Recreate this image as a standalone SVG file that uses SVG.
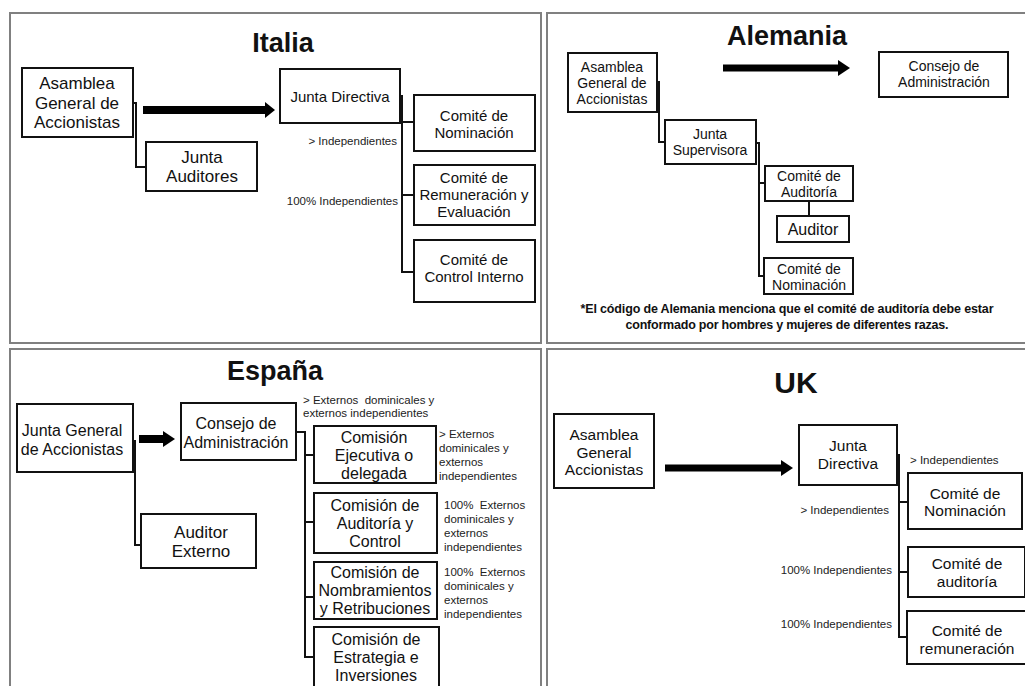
<svg xmlns="http://www.w3.org/2000/svg" width="1025" height="686" viewBox="0 0 1025 686">
<style>
.panel{fill:#fff;stroke:#808080;stroke-width:2}
.box{fill:#fff;stroke:#111;stroke-width:2}
.t{font-family:"Liberation Sans",Arial,sans-serif;fill:#111;text-anchor:middle}
.s17{font-size:17px}
.s16{font-size:16px}
.s155{font-size:15.5px}
.s15{font-size:15px}
.s14{font-size:14px}
.title{font-family:"Liberation Sans",Arial,sans-serif;font-weight:bold;font-size:27px;fill:#111;text-anchor:middle}
.lab{font-family:"Liberation Sans",Arial,sans-serif;font-size:11.5px;fill:#222}
.r{text-anchor:end}
.note{font-family:"Liberation Sans",Arial,sans-serif;font-weight:bold;font-size:12.5px;fill:#111;text-anchor:middle}
.ln{fill:none;stroke:#111;stroke-width:2}
.arr{fill:#000}
</style>
<rect width="1025" height="686" fill="#fff"/>
<g id="panels">
<rect class="panel" x="10" y="13" width="531" height="330"/>
<rect class="panel" x="547" y="13" width="490" height="330"/>
<rect class="panel" x="10" y="349" width="531" height="350"/>
<rect class="panel" x="547" y="349" width="490" height="350"/>
</g>
<g id="titles">
<text class="title" x="283" y="52">Italia</text>
<text class="title" x="787" y="45">Alemania</text>
<text class="title" x="275" y="380">España</text>
<text class="title" x="796" y="393" style="font-size:30px">UK</text>
</g>
<g id="connectors">
<path class="ln" d="M133 103H136V167H146"/>
<path class="ln" d="M400 96H402V272H414M402 122H414M402 195H414"/>
<polygon class="arr" points="143,106 265,106 265,102 275,110 265,118 265,114 143,114"/>
<path class="ln" d="M657 82H659V142H665"/>
<path class="ln" d="M756 143H759V276H764M759 183H765"/>
<path class="ln" d="M809 201V216"/>
<polygon class="arr" points="723,64.5 838,64.5 838,60 850,68 838,76 838,71.5 723,71.5"/>
<path class="ln" d="M133 441H135V545H141"/>
<path class="ln" d="M296 432H305V657H314M305 455H314M305 522H314M305 597H314"/>
<polygon class="arr" points="139,435 163,435 163,431 175,439 163,447 163,443 139,443"/>
<path class="ln" d="M897 455H899V637H908M899 502H908M899 572H908"/>
<polygon class="arr" points="665,464.5 781,464.5 781,460 793,468 781,476 781,471.5 665,471.5"/>
</g>
<g id="italia-asamblea"><rect class="box" x="22" y="68" width="111" height="69"/>
<text class="t s17" x="77" y="89">Asamblea</text><text class="t s17" x="77" y="108.5">General de</text><text class="t s17" x="77" y="128">Accionistas</text></g>
<g id="italia-auditores"><rect class="box" x="146" y="142" width="111" height="49"/>
<text class="t s17" x="202" y="163">Junta</text><text class="t s17" x="202" y="182">Auditores</text></g>
<g id="italia-junta"><rect class="box" x="280" y="69" width="120" height="54"/>
<text class="t s15" x="340" y="102">Junta Directiva</text></g>
<g id="italia-nominacion"><rect class="box" x="414" y="95" width="121" height="56"/>
<text class="t s15" x="474" y="121">Comité de</text><text class="t s15" x="474" y="138">Nominación</text></g>
<g id="italia-remuneracion"><rect class="box" x="414" y="165" width="121" height="60"/>
<text class="t s15" x="474" y="183">Comité de</text><text class="t s15" x="474" y="200">Remuneración y</text><text class="t s15" x="474" y="217">Evaluación</text></g>
<g id="italia-control"><rect class="box" x="414" y="240" width="121" height="62"/>
<text class="t s15" x="474" y="265">Comité de</text><text class="t s15" x="474" y="282">Control Interno</text></g>
<g id="italia-labels">
<text class="lab r" x="397" y="145">&gt; Independientes</text>
<text class="lab r" x="398" y="205">100% Independientes</text>
</g>
<g id="alemania-asamblea"><rect class="box" x="568" y="53" width="89" height="59"/>
<text class="t s14" x="612" y="72">Asamblea</text><text class="t s14" x="612" y="88">General de</text><text class="t s14" x="612" y="104">Accionistas</text></g>
<g id="alemania-consejo"><rect class="box" x="879" y="52" width="129" height="45"/>
<text class="t s14" x="944" y="71">Consejo de</text><text class="t s14" x="944" y="87">Administración</text></g>
<g id="alemania-supervisora"><rect class="box" x="665" y="120" width="91" height="44"/>
<text class="t s14" x="710" y="139">Junta</text><text class="t s14" x="710" y="155">Supervisora</text></g>
<g id="alemania-auditoria"><rect class="box" x="765" y="166" width="88" height="35"/>
<text class="t s14" x="809" y="180.5">Comité de</text><text class="t s14" x="809" y="196.5">Auditoría</text></g>
<g id="alemania-auditor"><rect class="box" x="777" y="216" width="72" height="26"/>
<text class="t s16" x="813" y="235">Auditor</text></g>
<g id="alemania-nominacion"><rect class="box" x="764" y="258" width="89" height="36"/>
<text class="t s14" x="809" y="273.5">Comité de</text><text class="t s14" x="809" y="289.5">Nominación</text></g>
<g id="alemania-nota">
<text class="note" x="787" y="313" textLength="413">*El código de Alemania menciona que el comité de auditoría debe estar</text>
<text class="note" x="787" y="329" textLength="323">conformado por hombres y mujeres de diferentes razas.</text>
</g>
<g id="espana-junta"><rect class="box" x="17" y="404" width="116" height="68"/>
<text class="t s16" x="72" y="436">Junta General</text><text class="t s16" x="72" y="455">de Accionistas</text></g>
<g id="espana-consejo"><rect class="box" x="181" y="403" width="115" height="57"/>
<text class="t s16" x="236" y="428.5">Consejo de</text><text class="t s16" x="236" y="447.5">Administración</text></g>
<g id="espana-auditor"><rect class="box" x="141" y="514" width="115" height="54"/>
<text class="t s17" x="201" y="538">Auditor</text><text class="t s17" x="201" y="557">Externo</text></g>
<g id="espana-ejecutiva"><rect class="box" x="314" y="426" width="122" height="57"/>
<text class="t s16" x="374" y="443">Comisión</text><text class="t s16" x="374" y="461">Ejecutiva o</text><text class="t s16" x="374" y="479">delegada</text></g>
<g id="espana-auditoria"><rect class="box" x="314" y="493" width="123" height="60"/>
<text class="t s16" x="375" y="511">Comisión de</text><text class="t s16" x="375" y="529">Auditoría y</text><text class="t s16" x="375" y="547">Control</text></g>
<g id="espana-nombramientos"><rect class="box" x="314" y="562" width="123" height="57"/>
<text class="t s16" x="375" y="578">Comisión de</text><text class="t s16" x="375" y="596">Nombramientos</text><text class="t s16" x="375" y="614">y Retribuciones</text></g>
<g id="espana-estrategia"><rect class="box" x="314" y="627" width="125" height="70"/>
<text class="t s16" x="376" y="645">Comisión de</text><text class="t s16" x="376" y="663">Estrategia e</text><text class="t s16" x="376" y="681">Inversiones</text></g>
<g id="espana-labels">
<text class="lab" x="303" y="404">&gt; Externos&#160; dominicales y</text>
<text class="lab" x="303" y="417">externos independientes</text>
<text class="lab" x="439" y="438">&gt; Externos</text>
<text class="lab" x="439" y="452">dominicales y</text>
<text class="lab" x="439" y="466">externos</text>
<text class="lab" x="439" y="480">independientes</text>
<text class="lab" x="444" y="509">100%&#160; Externos</text>
<text class="lab" x="444" y="523">dominicales y</text>
<text class="lab" x="444" y="537">externos</text>
<text class="lab" x="444" y="551">independientes</text>
<text class="lab" x="444" y="576">100%&#160; Externos</text>
<text class="lab" x="444" y="590">dominicales y</text>
<text class="lab" x="444" y="604">externos</text>
<text class="lab" x="444" y="618">independientes</text>
</g>
<g id="uk-asamblea"><rect class="box" x="554" y="414" width="100" height="74"/>
<text class="t s155" x="604" y="440">Asamblea</text><text class="t s155" x="604" y="457.5">General</text><text class="t s155" x="604" y="475">Accionistas</text></g>
<g id="uk-junta"><rect class="box" x="799" y="425" width="98" height="60"/>
<text class="t s155" x="848" y="451">Junta</text><text class="t s155" x="848" y="468.5">Directiva</text></g>
<g id="uk-nominacion"><rect class="box" x="908" y="473" width="114" height="56"/>
<text class="t s155" x="965" y="498.5">Comité de</text><text class="t s155" x="965" y="516">Nominación</text></g>
<g id="uk-auditoria"><rect class="box" x="908" y="547" width="117" height="50"/>
<text class="t s155" x="967" y="569">Comité de</text><text class="t s155" x="967" y="586.5">auditoría</text></g>
<g id="uk-remuneracion"><rect class="box" x="907" y="611" width="120" height="53"/>
<text class="t s155" x="967" y="636">Comité de</text><text class="t s155" x="967" y="653.5">remuneración</text></g>
<g id="uk-labels">
<text class="lab" x="910" y="464">&gt; Independientes</text>
<text class="lab r" x="889" y="514">&gt; Independientes</text>
<text class="lab r" x="892" y="574">100% Independientes</text>
<text class="lab r" x="892" y="628">100% Independientes</text>
</g>
</svg>
